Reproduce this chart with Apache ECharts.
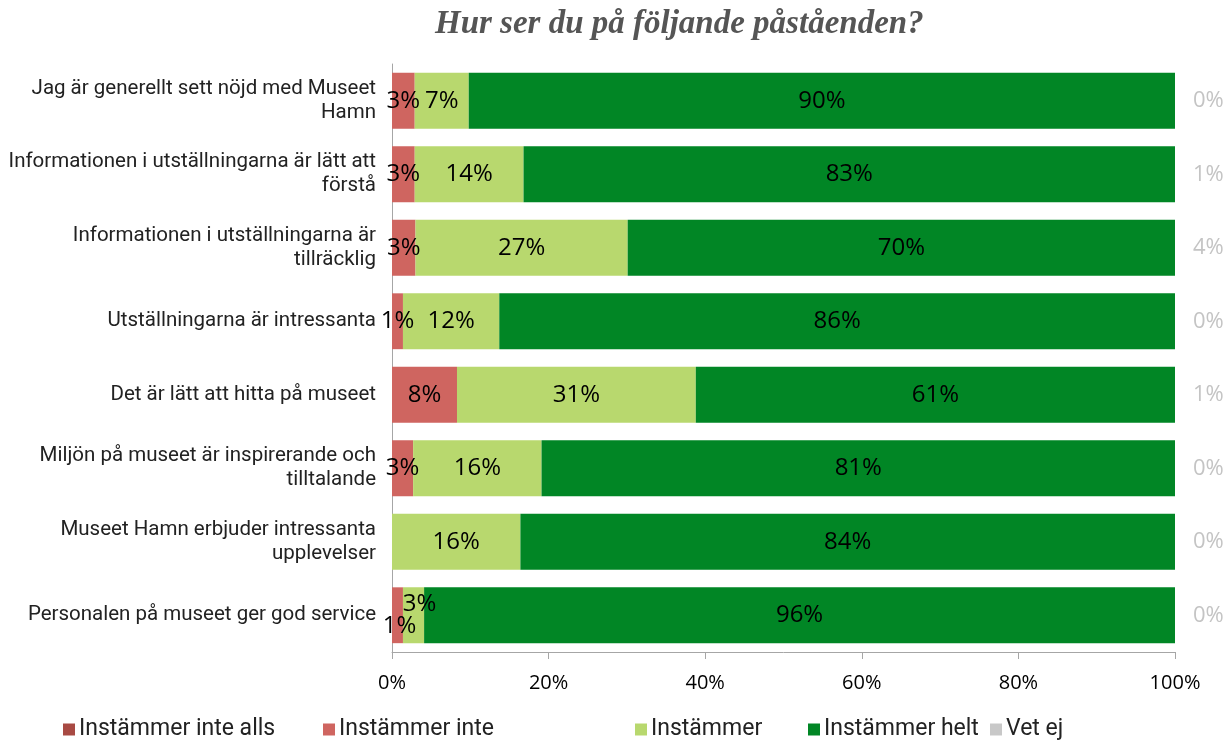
<!DOCTYPE html>
<html>
<head>
<meta charset="utf-8">
<script src="https://cdn.jsdelivr.net/npm/echarts@6/dist/echarts.min.js"></script>
<style>html,body{margin:0;padding:0;background:#fff}#c{width:1229px;height:743px}</style>
</head>
<body>
<div id="c"></div>
<script>
const titleText = 'Hur ser du på följande påståenden?';
const categories = [
  'Jag är generellt sett nöjd med Museet\nHamn',
  'Informationen i utställningarna är lätt att\nförstå',
  'Informationen i utställningarna är\ntillräcklig',
  'Utställningarna är intressanta',
  'Det är lätt att hitta på museet',
  'Miljön på museet är inspirerande och\ntilltalande',
  'Museet Hamn erbjuder intressanta\nupplevelser',
  'Personalen på museet ger god service'
];
const seriesNames = ['Instämmer inte alls', 'Instämmer inte', 'Instämmer', 'Instämmer helt', 'Vet ej'];
const instammerInteAlls = [0, 0, 0, 0, 0, 0, 0, 0];
const instammerInte = [2.9, 2.9, 3.0, 1.4, 8.3, 2.7, 0, 1.4];
const instammer = [6.9, 13.9, 27.1, 12.3, 30.5, 16.4, 16.4, 2.7];
const instammerHelt = [90.2, 83.2, 69.9, 86.3, 61.2, 80.9, 83.6, 95.9];
const vetEj = [0, 1, 4, 0, 1, 0, 0, 0];
const xTicks = [0, 20, 40, 60, 80, 100];

const colors = ['#a84a43', '#cf6560', '#b8d86e', '#018625', '#c8c8c8'];
const labelFont = 'Open Sans';

function segLabel(p) { return p.value > 0 ? Math.round(p.value) + '%' : ''; }

function buildData(arr, overrides) {
  return arr.map((v, i) => overrides && overrides[i] ? { value: v, label: overrides[i] } : v);
}

const barCommon = {
  type: 'bar', stack: 'total', barCategoryGap: '24%',
  label: { show: true, position: 'inside', formatter: segLabel, color: '#000', fontFamily: labelFont, fontSize: 24 },
  emphasis: { disabled: true }
};

const chart = echarts.init(document.getElementById('c'));
const legendLefts = [58, 318, 630, 803, 985];
chart.setOption({
  animation: false,
  color: colors,
  title: {
    text: titleText, left: 430, top: 3,
    textStyle: { fontFamily: 'Liberation Serif', fontStyle: 'italic', fontWeight: 'bold', fontSize: 33, color: '#555' }
  },
  legend: seriesNames.map((n, i) => ({
    data: [n], left: legendLefts[i], top: 713, itemWidth: 12, itemHeight: 12, icon: 'rect', itemGap: 0,
    textStyle: { fontFamily: 'Roboto', fontSize: 23, color: '#222', padding: [0, 0, 0, -1] }
  })),
  grid: { left: 392, right: 54, top: 64, bottom: 91 },
  xAxis: {
    type: 'value', min: 0, max: 100, interval: 20,
    axisLine: { show: true, lineStyle: { color: '#a6a6a6' } },
    axisTick: { show: true, length: 7, lineStyle: { color: '#a6a6a6' } },
    splitLine: { show: false },
    axisLabel: { formatter: v => xTicks.includes(v) ? v + '%' : '', fontFamily: labelFont, fontSize: 20, color: '#000', margin: 21 }
  },
  yAxis: [{
    type: 'category', inverse: true, data: categories,
    axisLine: { show: true, lineStyle: { color: '#a6a6a6' } },
    axisTick: { show: false },
    axisLabel: { fontFamily: 'Roboto', fontSize: 20.5, color: '#222', lineHeight: 24, margin: 16, align: 'right' }
  }, {
    type: 'category', inverse: true, position: 'right', data: vetEj.map(v => v + '%'),
    axisLine: { show: false }, axisTick: { show: false },
    axisLabel: { fontFamily: labelFont, fontSize: 22, color: '#c4c4c4', margin: 18 }
  }],
  series: [
    Object.assign({}, barCommon, { name: seriesNames[0], data: buildData(instammerInteAlls) }),
    Object.assign({}, barCommon, { name: seriesNames[1], data: buildData(instammerInte, { 7: { offset: [2, 11] } }) }),
    Object.assign({}, barCommon, { name: seriesNames[2], data: buildData(instammer, { 7: { offset: [6, -11] } }) }),
    Object.assign({}, barCommon, { name: seriesNames[3], data: buildData(instammerHelt) }),
    Object.assign({}, barCommon, { name: seriesNames[4], data: [] })
  ]
});
</script>
</body>
</html>
